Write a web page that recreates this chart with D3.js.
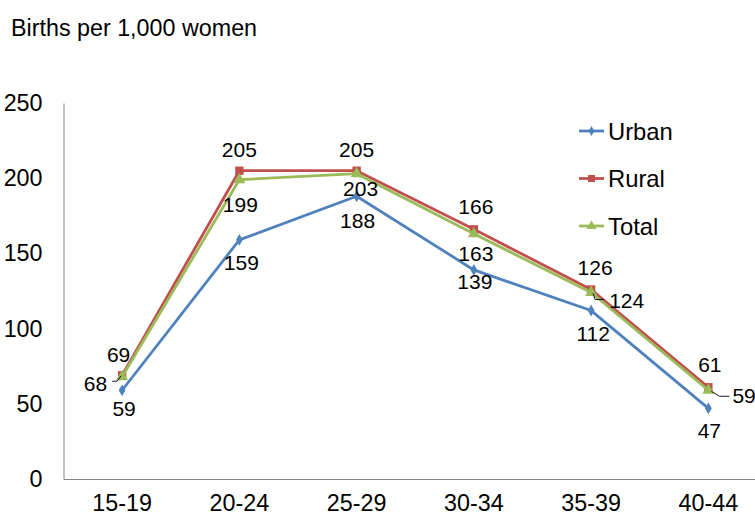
<!DOCTYPE html>
<html>
<head>
<meta charset="utf-8">
<script src="https://cdn.jsdelivr.net/npm/d3@7/dist/d3.min.js"></script>
<style>
  body { margin: 0; background: #fff; }
  svg { display: block; font-family: "Liberation Sans", Arial, sans-serif; }
</style>
</head>
<body>
<svg id="chart" width="755" height="516"></svg>
<script>
// Age-specific fertility rates by residence
const ageGroups = ["15-19", "20-24", "25-29", "30-34", "35-39", "40-44"];
const urban = [59, 159, 188, 139, 112, 47];
const rural = [69, 205, 205, 166, 126, 61];
const total = [68, 199, 203, 163, 124, 59];
const yTicks = [0, 50, 100, 150, 200, 250];
const seriesNames = ["Urban", "Rural", "Total"];

const svg = d3.select("#chart");
const plotLeft = 63.5, plotRight = 767, plotTop = 103, plotBottom = 479;
const FONT = "Liberation Sans, Arial, sans-serif";
const AXIS_FONT = 23.3, LABEL_FONT = 21, LEGEND_FONT = 23.8;

const x = d3.scaleBand().domain(ageGroups).range([plotLeft, plotRight]);
const y = d3.scaleLinear().domain([0, 250]).range([plotBottom, plotTop]);
const cx = d => x(d) + x.bandwidth() / 2;

// Title
svg.append("text").attr("x", 11).attr("y", 36)
  .attr("font-size", AXIS_FONT).attr("fill", "#000").text("Births per 1,000 women");

// Axes
const yAxis = svg.append("g").attr("transform", `translate(${plotLeft},0)`)
  .call(d3.axisLeft(y).tickValues(yTicks).tickSize(0).tickPadding(21));
yAxis.select(".domain").attr("stroke", "#868686");
yAxis.selectAll("text").attr("font-size", AXIS_FONT).attr("fill", "#000").attr("font-family", FONT);

const xAxis = svg.append("g").attr("transform", `translate(0,${plotBottom})`)
  .call(d3.axisBottom(x).tickSize(0).tickPadding(15));
xAxis.select(".domain").attr("stroke", "#868686");
xAxis.selectAll("text").attr("font-size", AXIS_FONT).attr("fill", "#000").attr("font-family", FONT);

const series = [
  { name: seriesNames[0], values: urban, color: "#4F81BD", symbol: d3.symbolDiamond, size: 40 },
  { name: seriesNames[1], values: rural, color: "#C0504D", symbol: d3.symbolSquare, size: 70 },
  { name: seriesNames[2], values: total, color: "#9BBB59", symbol: d3.symbolTriangle, size: 62 }
];

const line = d3.line().x((d, i) => cx(ageGroups[i])).y(d => y(d));

series.forEach(s => {
  svg.append("path").datum(s.values).attr("d", line)
    .attr("fill", "none").attr("stroke", s.color).attr("stroke-width", 2.8)
    .attr("stroke-linejoin", "round");
  svg.selectAll(null).data(s.values).enter().append("path")
    .attr("d", d3.symbol().type(s.symbol).size(s.size))
    .attr("transform", (d, i) => `translate(${cx(ageGroups[i])},${y(d)})`)
    .attr("fill", s.color);
});

// Data label placement relative to each marker: [dx, dy, anchor]
const labelOffsets = {
  Urban: [[2, 18], [2, 22.5], [1, 24], [1, 12], [2, 23], [1, 22]],
  Rural: [[-3.5, -20.5], [0, -21], [0, -21], [2, -23], [4, -22], [1.5, -23]],
  Total: [[-15, 7, "end"], [1, 25], [4, 15], [2, 20], [18, 8, "start"], [24, 5, "start"]]
};
// Leader lines for labels pushed away from their marker
const leaders = {
  0: [[-10, 4.5], [-5, 4.5], [-1, -1]],
  4: [[2, 1], [4, 7], [13, 7]],
  5: [[3, 1], [11, 6], [21, 6]]
};

const labelG = svg.append("g").attr("font-size", LABEL_FONT).attr("fill", "#000");
series.forEach(s => {
  s.values.forEach((v, i) => {
    const px = cx(ageGroups[i]), py = y(v);
    const [dx, dy, anchor] = labelOffsets[s.name][i];
    labelG.append("text").attr("x", px + dx).attr("y", py + dy)
      .attr("text-anchor", anchor || "middle").attr("dominant-baseline", "central").text(v);
    if (s.name === "Total" && leaders[i]) {
      svg.append("path")
        .attr("d", d3.line()(leaders[i].map(([lx, ly]) => [px + lx, py + ly])))
        .attr("fill", "none").attr("stroke", "#000").attr("stroke-width", 0.9);
    }
  });
});

// Legend
const legend = svg.append("g");
series.forEach((s, i) => {
  const ly = 131 + i * 47.5;
  legend.append("line").attr("x1", 579).attr("x2", 604).attr("y1", ly).attr("y2", ly)
    .attr("stroke", s.color).attr("stroke-width", 2.8);
  legend.append("path").attr("d", d3.symbol().type(s.symbol).size(s.size * 0.7))
    .attr("transform", `translate(591.5,${ly})`).attr("fill", s.color);
  legend.append("text").attr("x", 608).attr("y", ly).attr("dominant-baseline", "central")
    .attr("font-size", LEGEND_FONT).attr("fill", "#000").text(s.name);
});
</script>
</body>
</html>
